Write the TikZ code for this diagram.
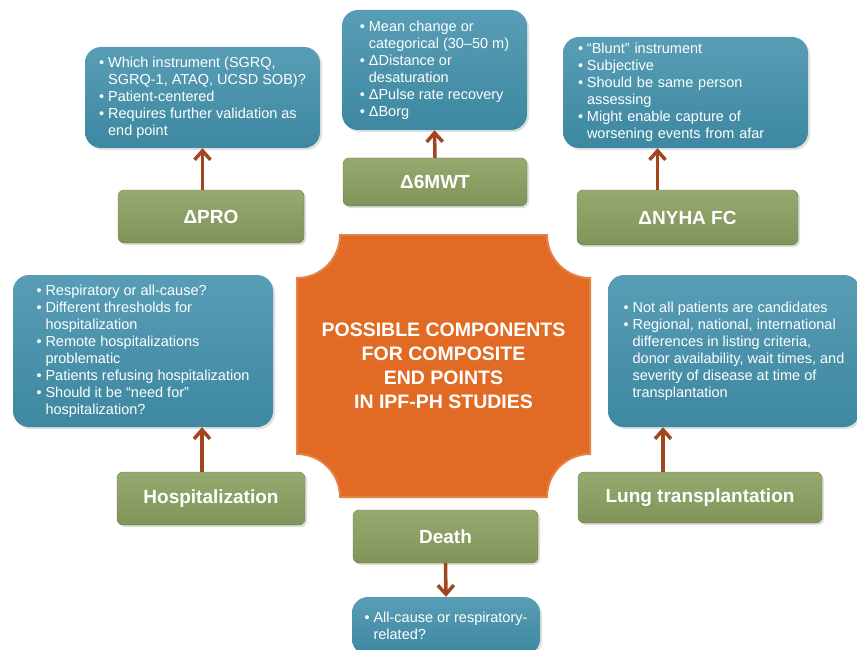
\documentclass[tikz,border=0pt]{standalone}
\usepackage{fontspec}
\setmainfont{Liberation Sans}
\usetikzlibrary{arrows.meta,shadows}

\definecolor{boxblue}{HTML}{4190AB}
\definecolor{boxgreen}{HTML}{8BA060}
\definecolor{hubfill}{HTML}{E16B25}
\definecolor{linkbrown}{HTML}{A2461F}

\newcommand{\bulitem}{\makebox[9pt][l]{•}}
\newcommand{\bulcont}{\hspace*{9pt}}

\tikzset{
  infobox/.style={rounded corners=16pt, top color=boxblue!88!white, bottom color=boxblue!94!black,
    text=white, align=left, inner sep=0pt, font=\fontsize{14.5}{17}\selectfont,
    drop shadow={opacity=0.25, shadow xshift=2pt, shadow yshift=-2pt}},
  labelbox/.style={rounded corners=6pt, top color=boxgreen!90!white, bottom color=boxgreen!92!black,
    draw=boxgreen!80!black, text=white, font=\fontsize{19}{22}\selectfont\bfseries,
    drop shadow={opacity=0.25, shadow xshift=2pt, shadow yshift=-2pt}},
  hubtext/.style={text=white, align=center, font=\fontsize{19.5}{24}\selectfont\bfseries},
  link/.style={draw=linkbrown, line width=3.5pt, -{Straight Barb[length=9pt,width=16pt]}},
}

\begin{document}
\begin{tikzpicture}[x=1pt, y=-1pt]
\useasboundingbox (0,0) rectangle (857,650);

% centre shape
\fill[hubfill, draw=hubfill!85!white, line width=2pt]
  (340,235) -- (547,235) arc[start angle=180, end angle=90, radius=43]
  -- (590,454) arc[start angle=270, end angle=180, radius=43]
  -- (340,497) arc[start angle=360, end angle=270, radius=43]
  -- (297,278) arc[start angle=90, end angle=0, radius=43] -- cycle;
\node[hubtext] (hub) at (443.5,366) {POSSIBLE COMPONENTS\\FOR COMPOSITE\\END POINTS\\IN IPF-PH STUDIES};

% top row
\node[infobox, minimum width=235, minimum height=101] (proB) at (202.5,97.5)
  {\bulitem Which instrument (SGRQ,\\ \bulcont SGRQ-1, ATAQ, UCSD SOB)?\\ \bulitem Patient-centered\\
   \bulitem Requires further validation as\\ \bulcont end point};
\node[labelbox, minimum width=186, minimum height=53] (proG) at (211,216.5) {ΔPRO};

\node[infobox, minimum width=185, minimum height=120] (mwB) at (434.5,70)
  {\bulitem Mean change or\\ \bulcont categorical (30–50 m)\\ \bulitem ΔDistance or\\
   \bulcont desaturation\\ \bulitem ΔPulse rate recovery\\ \bulitem ΔBorg};
\node[labelbox, minimum width=184, minimum height=48] (mwG) at (435,182) {Δ6MWT};

\node[infobox, minimum width=245, minimum height=111, text width=215] (nyB) at (685.5,92.5)
  {\bulitem “Blunt” instrument\\ \bulitem Subjective\\ \bulitem Should be same person\\
   \bulcont assessing\\ \bulitem Might enable capture of\\ \bulcont worsening events from afar};
\node[labelbox, minimum width=221, minimum height=55] (nyG) at (687.5,217.5) {ΔNYHA FC};

% middle row
\node[infobox, minimum width=260, minimum height=152] (hoB) at (143,351)
  {\bulitem Respiratory or all-cause?\\ \bulitem Different thresholds for\\ \bulcont hospitalization\\
   \bulitem Remote hospitalizations\\ \bulcont problematic\\ \bulitem Patients refusing hospitalization\\
   \bulitem Should it be “need for”\\ \bulcont hospitalization?};
\node[labelbox, minimum width=188, minimum height=53] (hoG) at (211,498.5) {Hospitalization};

\node[infobox, minimum width=252, minimum height=152] (luB) at (734,351)
  {\bulitem Not all patients are candidates\\ \bulitem Regional, national, international\\
   \bulcont differences in listing criteria,\\ \bulcont donor availability, wait times, and\\
   \bulcont severity of disease at time of\\ \bulcont transplantation};
\node[labelbox, minimum width=244, minimum height=51] (luG) at (700,497.5) {Lung transplantation};

% bottom
\node[labelbox, minimum width=185, minimum height=53] (deG) at (445.5,536.5) {Death};
\node[infobox, minimum width=188, minimum height=58] (deB) at (446,626)
  {\bulitem All-cause or respiratory-\\ \bulcont related?};

% Edges
\coordinate (nyA) at ([xshift=-30pt]nyG.north);
\coordinate (hoA) at ([xshift=-9pt]hoG.north);
\coordinate (luA) at ([xshift=-37pt]luG.north);
\draw[link] (proG.north -| proB.south) -- (proB.south);
\draw[link] (mwG.north) -- (mwB.south);
\draw[link] (nyA) -- (nyA |- nyB.south);
\draw[link] (hoA) -- (hoA |- hoB.south);
\draw[link] (luA) -- (luA |- luB.south);
\draw[link] (deG.south) -- (deB.north);
\end{tikzpicture}
\end{document}
